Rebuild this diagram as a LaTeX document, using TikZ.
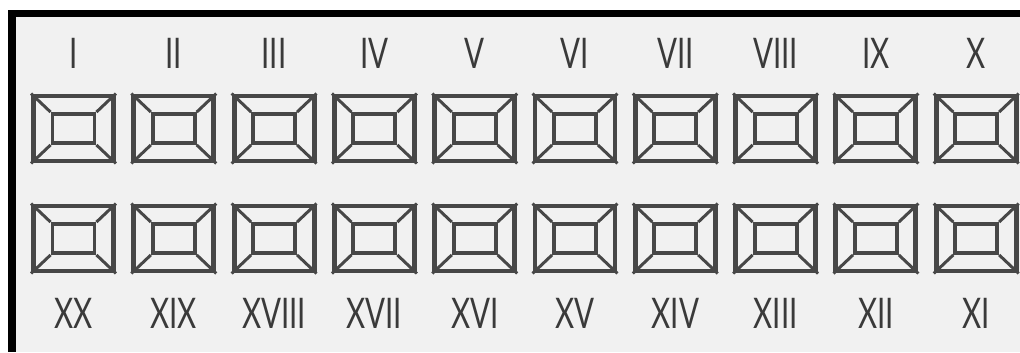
\documentclass[tikz,border=0pt]{standalone}
\usepackage{fontspec}
\setmainfont{Lato}[FakeStretch=0.7]
\usepackage{tikz}
\usetikzlibrary{positioning}
\definecolor{framegray}{HTML}{474747}
\definecolor{numgray}{HTML}{3A3A3A}
\definecolor{paper}{HTML}{F1F1F1}

\begin{document}
\begin{tikzpicture}[x=0.02cm, y=-0.02cm,
  outerbox/.style={draw=framegray, line width=2.8pt, minimum width=1.6cm, minimum height=1.3cm, inner sep=0pt},
  innerbox/.style={draw=framegray, line width=2.2pt, minimum width=0.84cm, minimum height=0.58cm, inner sep=0pt},
  bevel/.style={draw=framegray, line width=1.7pt},
  numeral/.style={font=\fontsize{24}{24}\selectfont, text=numgray, inner sep=0pt},
]
  \useasboundingbox (0,0) rectangle (1020,352);
  \fill[white] (0,0) rectangle (1020,352);
  \fill[paper] (16,17) rectangle (1020,352);
  \fill[black] (8,10) rectangle (1020,17);
  \fill[black] (8,10) rectangle (16,352);

  % upper row, I to X
  \foreach \lab [count=\i] in {I,II,III,IV,V,VI,VII,VIII,IX,X} {
    \node[outerbox] (top\i) at ({73.5+100.3*(\i-1)}, 128.5) {};
    \node[innerbox] (topin\i) at (top\i) {};
    \foreach \c in {north west, north east, south west, south east}
      \draw[bevel] (top\i.\c) -- (topin\i.\c);
    \node[numeral] (toplab\i) at ({73.5+100.3*(\i-1)}, 53) {\lab};
  }

  % lower row, XX down to XI
  \foreach \lab [count=\i] in {XX,XIX,XVIII,XVII,XVI,XV,XIV,XIII,XII,XI} {
    \node[outerbox] (bot\i) at ({73.5+100.3*(\i-1)}, 238.5) {};
    \node[innerbox] (botin\i) at (bot\i) {};
    \foreach \c in {north west, north east, south west, south east}
      \draw[bevel] (bot\i.\c) -- (botin\i.\c);
    \node[numeral] (botlab\i) at ({73.5+100.3*(\i-1)}, 313) {\lab};
  }
\end{tikzpicture}
\end{document}
